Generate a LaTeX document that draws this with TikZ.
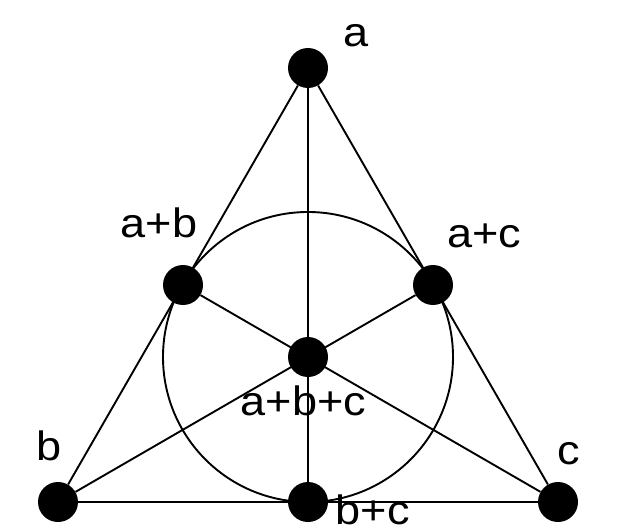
\documentclass[tikz,border=0pt]{standalone}
\usepackage{fontspec}
\setmainfont{Liberation Sans}
\newfontfamily\lblfont[FakeStretch=1.1]{Liberation Sans}
\begin{document}
\begin{tikzpicture}[x=1pt,y=-1pt,
  dot/.style={circle,fill=black,draw=none,minimum size=40pt,inner sep=0pt},
  lbl/.style={anchor=base west,inner sep=0pt,font=\lblfont\fontsize{41pt}{41pt}\selectfont},
  edge/.style={line width=1.9pt}]
\useasboundingbox (0,0) rectangle (624,532);
\draw[edge] (308,357) circle[radius=145];
\node[dot] (a) at (308,68) {};
\node[dot] (ab) at (183,285) {};
\node[dot] (ac) at (433,285) {};
\node[dot] (abc) at (308,357) {};
\node[dot] (b) at (58,502) {};
\node[dot] (bc) at (308,502) {};
\node[dot] (c) at (558,502) {};
\draw[edge] (a) -- (b);
\draw[edge] (a) -- (c);
\draw[edge] (b) -- (c);
\draw[edge] (a) -- (bc);
\draw[edge] (b) -- (ac);
\draw[edge] (c) -- (ab);
\node[lbl] (la) at (343.5,47) {a};
\node[lbl] (lab) at (120.5,237) {a+b};
\node[lbl] (lac) at (447,247) {a+c};
\node[lbl] (labc) at (240.5,415) {a+b+c};
\node[lbl] (lb) at (36.6,460) {b};
\node[lbl] (lc) at (557.5,464) {c};
\node[lbl] (lbc) at (335.6,524) {b+c};
\end{tikzpicture}
\end{document}
